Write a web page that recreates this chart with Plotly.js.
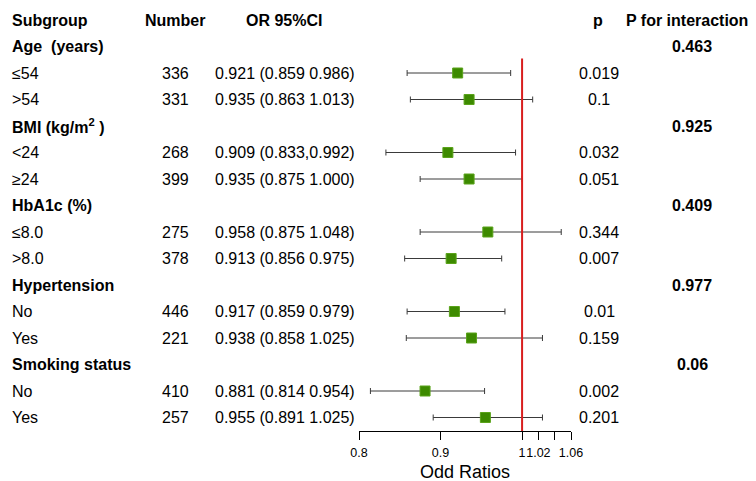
<!DOCTYPE html>
<html>
<head>
<meta charset="utf-8">
<script src="https://cdn.plot.ly/plotly-3.0.1.min.js"></script>
<style>html,body{margin:0;padding:0;background:#fff;}#chart{width:756px;height:481px;}</style>
</head>
<body>
<div id="chart"></div>
<script>
// ---- data ----
const rowLabels = ["Age  (years)", "≤54", ">54", "BMI (kg/m<sup>2</sup> )", "<24", "≥24",
  "HbA1c (%)", "≤8.0", ">8.0", "Hypertension", "No", "Yes", "Smoking status", "No", "Yes"];
const isGroup = [true, false, false, true, false, false, true, false, false, true, false, false, true, false, false];
const numbers = ["", "336", "331", "", "268", "399", "", "275", "378", "", "446", "221", "", "410", "257"];
const orText = ["", "0.921 (0.859 0.986)", "0.935 (0.863 1.013)", "", "0.909 (0.833,0.992)", "0.935 (0.875 1.000)",
  "", "0.958 (0.875 1.048)", "0.913 (0.856 0.975)", "", "0.917 (0.859 0.979)", "0.938 (0.858 1.025)",
  "", "0.881 (0.814 0.954)", "0.955 (0.891 1.025)"];
const orVal = [null, 0.921, 0.935, null, 0.909, 0.935, null, 0.958, 0.913, null, 0.917, 0.938, null, 0.881, 0.955];
const ciLow = [null, 0.859, 0.863, null, 0.833, 0.875, null, 0.875, 0.856, null, 0.859, 0.858, null, 0.814, 0.891];
const ciHigh = [null, 0.986, 1.013, null, 0.992, 1.000, null, 1.048, 0.975, null, 0.979, 1.025, null, 0.954, 1.025];
const pVals = ["", "0.019", "0.1", "", "0.032", "0.051", "", "0.344", "0.007", "", "0.01", "0.159", "", "0.002", "0.201"];
const pInter = ["0.463", "", "", "0.925", "", "", "0.409", "", "", "0.977", "", "", "0.06", "", ""];
const headers = ["Subgroup", "Number", "OR 95%CI", "p", "P for interaction"];
const tickVals = [0.8, 0.9, 1, 1.02, 1.06];
const tickText = ["0.8", "0.9", "1", "1.02", "1.06"];
const unlabeledTicks = [1.04];

// ---- build ----
const W = 756;
const rowIdx = rowLabels.map((_, i) => i + 1);
const xs = [], ys = [], ep = [], em = [];
orVal.forEach((v, i) => {
  if (v !== null) { xs.push(v); ys.push(rowIdx[i]); ep.push(ciHigh[i] - v); em.push(v - ciLow[i]); }
});

const FONT = "Liberation Sans, Arial, sans-serif";
const ann = [];
function txt(text, xpx, row, anchor, bold, size) {
  ann.push({
    text: bold ? "<b>" + text + "</b>" : text,
    x: xpx / W, xref: "paper", y: row, yref: "y",
    xanchor: anchor, yanchor: "middle", showarrow: false,
    font: {family: FONT, size: size || 16, color: "#000"}
  });
}
// header
txt(headers[0], 10, 0, "left", true);
txt(headers[1], 175, 0, "center", true);
txt(headers[2], 284, 0, "center", true);
txt(headers[3], 598, 0, "center", true);
txt(headers[4], 687, 0, "center", true);
rowLabels.forEach((lab, i) => {
  const r = rowIdx[i];
  txt(lab, 10, r, "left", isGroup[i]);
  if (numbers[i]) txt(numbers[i], 191, r, "right", false);
  if (orText[i]) txt(orText[i], 213, r, "left", false);
  if (pVals[i]) txt(pVals[i], 599, r, "center", false);
  if (pInter[i]) txt(pInter[i], 692, r, "center", true);
});
ann.push({text: "Odd Ratios", x: 465 / W, xref: "paper", y: -41 / 431, yref: "paper",
  xanchor: "center", yanchor: "middle", showarrow: false, borderpad: 0,
  font: {family: FONT, size: 18, color: "#000"}});

const trace = {
  type: "scatter", mode: "markers", x: xs, y: ys,
  marker: {symbol: "square", size: 10, color: "#3d8a00", line: {color: "#5aa31a", width: 1}},
  error_x: {type: "data", symmetric: false, array: ep, arrayminus: em, color: "#3a3a3a", thickness: 1, width: 3},
  hoverinfo: "skip", showlegend: false, cliponaxis: false
};

const layout = {
  width: 756, height: 481,
  margin: {l: 0, r: 0, t: 0, b: 50},
  paper_bgcolor: "#fff", plot_bgcolor: "#fff",
  xaxis: {
    domain: [359 / W, 571 / W], range: [0.8, 1.06],
    showgrid: false, zeroline: false, showline: true, linecolor: "#000", linewidth: 1,
    ticks: "outside", ticklen: 8, tickcolor: "#000", tickwidth: 1,
    tickmode: "array", tickvals: tickVals, ticktext: tickText, tickangle: 0, ticklabelstandoff: 2,
    minor: {tickmode: "array", tickvals: unlabeledTicks, ticks: "outside", ticklen: 8, tickcolor: "#000", tickwidth: 1, showgrid: false},
    tickfont: {family: FONT, size: 12.5, color: "#000"}, fixedrange: true
  },
  yaxis: {
    range: [(431 - 20) / 26.5, -20 / 26.5], visible: false, showgrid: false, zeroline: false, fixedrange: true
  },
  shapes: [{type: "line", xref: "x", yref: "y", x0: 1, x1: 1, y0: 1.45, y1: (431 - 20) / 26.5,
    line: {color: "#d81e1e", width: 2}}],
  annotations: ann,
  font: {family: FONT}
};

Plotly.newPlot("chart", [trace], layout, {staticPlot: true, displayModeBar: false});
</script>
</body>
</html>
